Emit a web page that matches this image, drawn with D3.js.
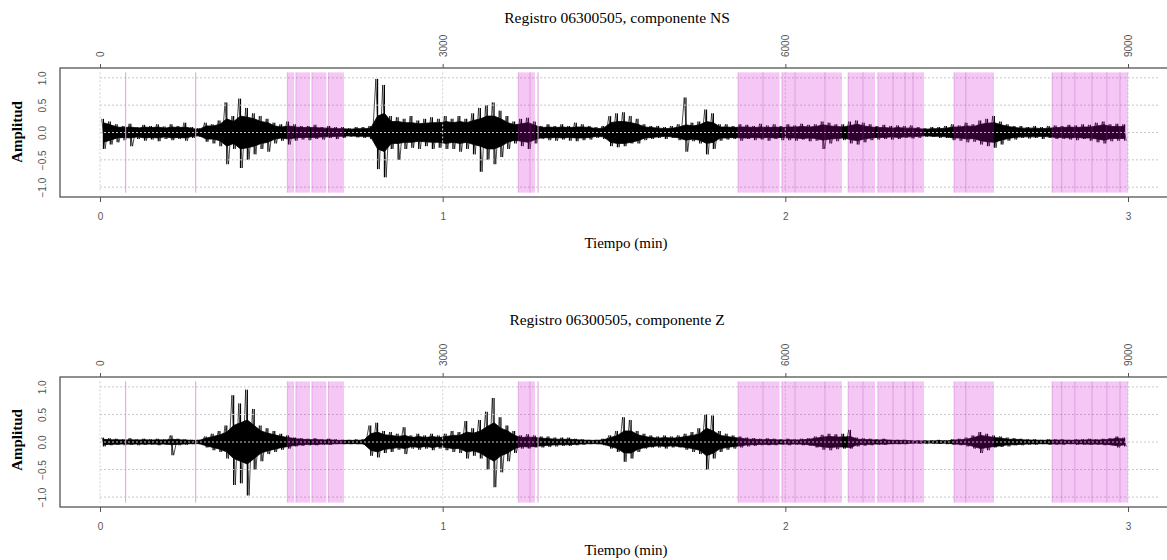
<!DOCTYPE html>
<html>
<head>
<meta charset="utf-8">
<script src="https://cdn.jsdelivr.net/npm/d3@7"></script>
<style>
    body { margin: 0; background: #fff; }
    svg text { font-family: "Liberation Serif", "Times New Roman", serif; }
    .eje text { font-family: "Liberation Sans", Arial, sans-serif; font-size: 10px; fill: #555; }
    .eje line { stroke: #555; }
</style>
</head>
<body>
<div class="container"></div>
<script>
// eje superior en muestras, eje inferior en minutos
let muestras = [0, 3000, 6000, 9000];
let minutos = [0, 1, 2, 3];
let amplitudes = [-1, -0.5, 0, 0.5, 1];
let paso = 60; // muestras por bloque de envolvente

// ventanas marcadas (inicio, fin) en muestras
let bandas = [
    [1640, 1700], [1715, 1838], [1855, 1982], [2000, 2136],
    [3662, 3765], [3765, 3808],
    [5586, 5805], [5805, 5950], [5970, 6085], [6085, 6347], [6347, 6495],
    [6550, 6680], [6680, 6785], [6810, 6943], [6943, 7048], [7048, 7118], [7118, 7214],
    [7477, 7580], [7580, 7827],
    [8335, 8420], [8420, 8535], [8535, 8685], [8685, 8815], [8815, 8930], [8930, 9000]
];
let lineas = [225, 838, 3835];

// componente NS: pico maximo, pico minimo y nucleo denso por bloque
let nsMax = [
    0.25, 0.2, 0.15, 0.12, 0.16, 0.1, 0.14, 0.12, 0.15, 0.11,
    0.15, 0.12, 0.18, 0.1, 0.08, 0.18, 0.15, 0.22, 0.55, 0.3,
    0.62, 0.45, 0.35, 0.3, 0.25, 0.18, 0.15, 0.2, 0.15, 0.12,
    0.12, 0.14, 0.1, 0.12, 0.1, 0.1, 0.08, 0.1, 0.1, 0.12,
    0.98, 0.87, 0.3, 0.28, 0.25, 0.3, 0.22, 0.25, 0.28, 0.25,
    0.3, 0.25, 0.3, 0.25, 0.35, 0.45, 0.5, 0.55, 0.4, 0.3,
    0.2, 0.25, 0.27, 0.2, 0.12, 0.15, 0.12, 0.15, 0.12, 0.18,
    0.15, 0.12, 0.1, 0.12, 0.3, 0.35, 0.37, 0.3, 0.25, 0.15,
    0.12, 0.12, 0.1, 0.12, 0.15, 0.64, 0.18, 0.2, 0.42, 0.35,
    0.15, 0.15, 0.12, 0.15, 0.14, 0.12, 0.16, 0.13, 0.15, 0.12,
    0.15, 0.13, 0.16, 0.14, 0.15, 0.2, 0.18, 0.15, 0.15, 0.2,
    0.22, 0.18, 0.15, 0.12, 0.14, 0.12, 0.13, 0.12, 0.13, 0.1,
    0.08, 0.1, 0.1, 0.12, 0.15, 0.13, 0.18, 0.15, 0.22, 0.25,
    0.3, 0.2, 0.15, 0.12, 0.12, 0.1, 0.12, 0.1, 0.12, 0.13,
    0.12, 0.14, 0.13, 0.15, 0.14, 0.18, 0.2, 0.15, 0.16, 0.15
];
let nsMin = [
    -0.3, -0.22, -0.18, -0.14, -0.25, -0.12, -0.15, -0.13, -0.16, -0.12,
    -0.14, -0.12, -0.15, -0.1, -0.08, -0.17, -0.2, -0.25, -0.58, -0.3,
    -0.65, -0.5, -0.4, -0.3, -0.35, -0.2, -0.15, -0.22, -0.15, -0.13,
    -0.14, -0.12, -0.13, -0.1, -0.12, -0.1, -0.08, -0.09, -0.1, -0.12,
    -0.67, -0.82, -0.3, -0.5, -0.3, -0.28, -0.3, -0.25, -0.3, -0.28,
    -0.3, -0.3, -0.35, -0.3, -0.4, -0.72, -0.5, -0.58, -0.45, -0.3,
    -0.2, -0.25, -0.3, -0.2, -0.12, -0.14, -0.15, -0.13, -0.15, -0.16,
    -0.14, -0.13, -0.1, -0.12, -0.25, -0.27, -0.25, -0.2, -0.2, -0.14,
    -0.12, -0.1, -0.12, -0.1, -0.14, -0.35, -0.16, -0.2, -0.4, -0.3,
    -0.15, -0.13, -0.12, -0.15, -0.12, -0.14, -0.13, -0.15, -0.12, -0.14,
    -0.14, -0.15, -0.13, -0.16, -0.15, -0.3, -0.2, -0.16, -0.14, -0.2,
    -0.22, -0.18, -0.14, -0.13, -0.12, -0.13, -0.12, -0.1, -0.11, -0.1,
    -0.08, -0.08, -0.1, -0.1, -0.14, -0.15, -0.18, -0.17, -0.22, -0.25,
    -0.28, -0.22, -0.15, -0.13, -0.1, -0.11, -0.1, -0.12, -0.1, -0.12,
    -0.12, -0.13, -0.14, -0.12, -0.15, -0.18, -0.2, -0.16, -0.15, -0.15
];
let nsNucleo = [
    0.18, 0.14, 0.1, 0.09, 0.1, 0.08, 0.1, 0.09, 0.1, 0.08,
    0.1, 0.09, 0.1, 0.07, 0.06, 0.12, 0.12, 0.15, 0.25, 0.2,
    0.3, 0.28, 0.25, 0.2, 0.18, 0.12, 0.1, 0.12, 0.1, 0.09,
    0.09, 0.09, 0.08, 0.08, 0.07, 0.07, 0.06, 0.07, 0.07, 0.08,
    0.3, 0.35, 0.2, 0.2, 0.18, 0.18, 0.16, 0.17, 0.18, 0.18,
    0.2, 0.18, 0.2, 0.18, 0.22, 0.25, 0.3, 0.3, 0.25, 0.18,
    0.14, 0.16, 0.18, 0.13, 0.09, 0.1, 0.09, 0.1, 0.09, 0.1,
    0.1, 0.09, 0.07, 0.08, 0.18, 0.2, 0.2, 0.18, 0.15, 0.1,
    0.09, 0.08, 0.07, 0.08, 0.1, 0.14, 0.12, 0.14, 0.2, 0.18,
    0.1, 0.1, 0.09, 0.1, 0.1, 0.09, 0.1, 0.09, 0.1, 0.09,
    0.1, 0.1, 0.11, 0.1, 0.11, 0.14, 0.12, 0.11, 0.1, 0.13,
    0.15, 0.12, 0.1, 0.09, 0.09, 0.08, 0.09, 0.08, 0.08, 0.07,
    0.06, 0.07, 0.07, 0.08, 0.1, 0.1, 0.12, 0.11, 0.15, 0.17,
    0.18, 0.14, 0.11, 0.09, 0.08, 0.08, 0.08, 0.07, 0.08, 0.09,
    0.09, 0.1, 0.09, 0.1, 0.1, 0.12, 0.14, 0.11, 0.11, 0.11
];

// componente Z
let zMax = [
    0.08, 0.07, 0.06, 0.05, 0.07, 0.05, 0.06, 0.05, 0.06, 0.05,
    0.12, 0.06, 0.05, 0.04, 0.04, 0.1, 0.15, 0.2, 0.3, 0.85,
    0.7, 0.95, 0.6, 0.3, 0.25, 0.2, 0.15, 0.12, 0.08, 0.07,
    0.06, 0.07, 0.05, 0.06, 0.05, 0.04, 0.04, 0.05, 0.05, 0.3,
    0.35, 0.2, 0.18, 0.15, 0.27, 0.12, 0.15, 0.12, 0.15, 0.12,
    0.15, 0.2, 0.18, 0.38, 0.25, 0.4, 0.55, 0.8, 0.45, 0.3,
    0.2, 0.12, 0.14, 0.12, 0.1, 0.1, 0.08, 0.08, 0.08, 0.06,
    0.05, 0.04, 0.04, 0.06, 0.12, 0.2, 0.45, 0.4, 0.2, 0.15,
    0.12, 0.1, 0.12, 0.1, 0.12, 0.15, 0.18, 0.25, 0.5, 0.48,
    0.2, 0.15, 0.12, 0.1, 0.08, 0.07, 0.06, 0.07, 0.06, 0.05,
    0.06, 0.05, 0.06, 0.07, 0.1, 0.13, 0.15, 0.14, 0.15, 0.22,
    0.08, 0.07, 0.06, 0.05, 0.06, 0.04, 0.04, 0.04, 0.03, 0.03,
    0.03, 0.03, 0.04, 0.03, 0.05, 0.06, 0.08, 0.12, 0.18, 0.15,
    0.12, 0.1, 0.08, 0.07, 0.06, 0.05, 0.05, 0.04, 0.05, 0.05,
    0.05, 0.04, 0.05, 0.05, 0.06, 0.05, 0.06, 0.07, 0.1, 0.08
];
let zMin = [
    -0.08, -0.06, -0.05, -0.06, -0.05, -0.06, -0.05, -0.05, -0.06, -0.05,
    -0.24, -0.06, -0.05, -0.04, -0.04, -0.1, -0.15, -0.18, -0.3, -0.78,
    -0.75, -0.97, -0.5, -0.35, -0.22, -0.18, -0.14, -0.12, -0.08, -0.07,
    -0.06, -0.06, -0.05, -0.05, -0.04, -0.04, -0.04, -0.04, -0.05, -0.25,
    -0.28, -0.2, -0.18, -0.14, -0.22, -0.12, -0.14, -0.12, -0.15, -0.12,
    -0.15, -0.18, -0.2, -0.3, -0.25, -0.3, -0.5, -0.82, -0.55, -0.35,
    -0.2, -0.12, -0.12, -0.1, -0.1, -0.09, -0.08, -0.07, -0.07, -0.06,
    -0.05, -0.04, -0.04, -0.06, -0.12, -0.18, -0.36, -0.3, -0.18, -0.12,
    -0.1, -0.1, -0.12, -0.1, -0.1, -0.14, -0.18, -0.22, -0.5, -0.3,
    -0.18, -0.14, -0.12, -0.1, -0.08, -0.07, -0.06, -0.06, -0.06, -0.05,
    -0.06, -0.05, -0.06, -0.07, -0.1, -0.14, -0.15, -0.13, -0.12, -0.12,
    -0.08, -0.07, -0.06, -0.05, -0.05, -0.04, -0.04, -0.04, -0.03, -0.03,
    -0.03, -0.03, -0.03, -0.04, -0.05, -0.06, -0.08, -0.12, -0.2, -0.15,
    -0.1, -0.09, -0.08, -0.06, -0.06, -0.05, -0.05, -0.04, -0.05, -0.05,
    -0.05, -0.04, -0.05, -0.05, -0.05, -0.05, -0.06, -0.06, -0.1, -0.08
];
let zNucleo = [
    0.05, 0.04, 0.04, 0.035, 0.04, 0.035, 0.04, 0.035, 0.04, 0.035,
    0.05, 0.04, 0.035, 0.03, 0.03, 0.07, 0.1, 0.13, 0.18, 0.3,
    0.35, 0.4, 0.3, 0.2, 0.16, 0.13, 0.1, 0.08, 0.06, 0.05,
    0.04, 0.045, 0.035, 0.04, 0.03, 0.03, 0.03, 0.03, 0.035, 0.15,
    0.18, 0.13, 0.12, 0.1, 0.12, 0.08, 0.1, 0.08, 0.1, 0.08,
    0.1, 0.12, 0.12, 0.18, 0.16, 0.2, 0.28, 0.35, 0.25, 0.2,
    0.12, 0.08, 0.09, 0.08, 0.07, 0.06, 0.05, 0.05, 0.05, 0.04,
    0.035, 0.03, 0.03, 0.04, 0.08, 0.12, 0.2, 0.2, 0.13, 0.1,
    0.08, 0.07, 0.08, 0.07, 0.08, 0.1, 0.12, 0.15, 0.25, 0.2,
    0.12, 0.1, 0.08, 0.07, 0.05, 0.05, 0.04, 0.045, 0.04, 0.035,
    0.04, 0.035, 0.04, 0.05, 0.07, 0.09, 0.1, 0.09, 0.09, 0.1,
    0.05, 0.045, 0.04, 0.035, 0.04, 0.03, 0.03, 0.03, 0.02, 0.02,
    0.02, 0.02, 0.025, 0.02, 0.035, 0.04, 0.05, 0.08, 0.12, 0.1,
    0.08, 0.07, 0.05, 0.05, 0.04, 0.035, 0.035, 0.03, 0.035, 0.035,
    0.035, 0.03, 0.035, 0.035, 0.04, 0.035, 0.04, 0.05, 0.07, 0.05
];

let width = 1167;
let height = 560;

let svg = d3.select(".container")
    .append("svg")
    .attr("width", width)
    .attr("height", height);

let paneles = [
    { titulo: "Registro 06300505, componente NS", max: nsMax, min: nsMin, nucleo: nsNucleo,
      top: 68, bottom: 197, tituloY: 23, etiqY: 248, ampY: 132 },
    { titulo: "Registro 06300505, componente Z", max: zMax, min: zMin, nucleo: zNucleo,
      top: 377, bottom: 507, tituloY: 325, etiqY: 555, ampY: 440 }
];

const dibujar = (p) => {
    let g = svg.append("g");

    let x = d3.scaleLinear().domain([0, 9000]).range([100, 1128]);
    let xMin = d3.scaleLinear().domain([0, 3]).range([100, 1128]);
    let y = d3.scaleLinear().domain([-1.18, 1.18]).range([p.bottom, p.top]);

    // senal: nucleo denso
    let area = d3.area()
        .x((d, i) => x(i * paso + paso / 2))
        .y0(d => y(-d))
        .y1(d => y(d));

    g.append("path")
        .datum(p.nucleo)
        .attr("d", area)
        .attr("fill", "black")
        .attr("stroke", "black")
        .attr("stroke-width", 0.8);

    // senal: oscilacion entre picos
    let puntos = p.max.flatMap((d, i) => [[i * paso + paso / 4, d], [i * paso + 3 * paso / 4, p.min[i]]]);
    let linea = d3.line()
        .x(d => x(d[0]))
        .y(d => y(d[1]));

    g.append("path")
        .datum(puntos)
        .attr("d", linea)
        .attr("fill", "none")
        .attr("stroke", "black")
        .attr("stroke-width", 0.7);

    // senal: picos
    g.append("g")
        .selectAll("line")
        .data(p.max)
        .enter()
        .append("line")
        .attr("x1", (d, i) => x(i * paso + paso / 2))
        .attr("x2", (d, i) => x(i * paso + paso / 2))
        .attr("y1", d => y(d))
        .attr("y2", (d, i) => y(p.min[i]))
        .attr("stroke", "black")
        .attr("stroke-width", 1.2);

    // rejilla
    g.selectAll(".hgrid")
        .data(amplitudes)
        .enter()
        .append("line")
        .attr("x1", x(0))
        .attr("x2", 1158)
        .attr("y1", d => y(d))
        .attr("y2", d => y(d))
        .attr("stroke", "#c8c8c8")
        .attr("stroke-dasharray", "2,2");

    g.selectAll(".vgrid")
        .data(minutos)
        .enter()
        .append("line")
        .attr("x1", d => xMin(d))
        .attr("x2", d => xMin(d))
        .attr("y1", y(1.1))
        .attr("y2", y(-1.1))
        .attr("stroke", "#d0d0d0")
        .attr("stroke-dasharray", "2,2");

    // ventanas
    g.selectAll(".banda")
        .data(bandas)
        .enter()
        .append("rect")
        .attr("x", d => x(d[0]))
        .attr("width", d => x(d[1]) - x(d[0]))
        .attr("y", y(1.1))
        .attr("height", y(-1.1) - y(1.1))
        .attr("fill", "#cc00cc")
        .attr("fill-opacity", 0.22);

    g.selectAll(".borde")
        .data(bandas)
        .enter()
        .append("line")
        .attr("x1", d => x(d[0]))
        .attr("x2", d => x(d[0]))
        .attr("y1", y(1.1))
        .attr("y2", y(-1.1))
        .attr("stroke", "#b030b0")
        .attr("stroke-opacity", 0.35)
        .attr("stroke-width", 0.8);

    g.selectAll(".linea")
        .data(lineas)
        .enter()
        .append("line")
        .attr("x1", d => x(d))
        .attr("x2", d => x(d))
        .attr("y1", y(1.1))
        .attr("y2", y(-1.1))
        .attr("stroke", "#d8a0d8")
        .attr("stroke-width", 1);

    // marco
    g.append("rect")
        .attr("x", 60)
        .attr("y", p.top)
        .attr("width", 1130)
        .attr("height", p.bottom - p.top)
        .attr("fill", "none")
        .attr("stroke", "#555")
        .attr("stroke-width", 1.3);

    // eje superior (muestras)
    let ejeSup = g.append("g")
        .attr("class", "eje")
        .attr("transform", "translate(0," + p.top + ")")
        .call(d3.axisTop(x).tickValues(muestras).tickSize(4).tickSizeOuter(0).tickFormat(d3.format("d")));
    ejeSup.select(".domain").remove();
    ejeSup.selectAll("text")
        .attr("transform", "rotate(-90)")
        .attr("x", 11)
        .attr("y", 0)
        .attr("dy", "0.35em")
        .attr("text-anchor", "start");

    // eje inferior (minutos)
    let ejeInf = g.append("g")
        .attr("class", "eje")
        .attr("transform", "translate(0," + p.bottom + ")")
        .call(d3.axisBottom(xMin).tickValues(minutos).tickSize(5).tickSizeOuter(0).tickFormat(d3.format("d")));
    ejeInf.select(".domain").remove();
    ejeInf.selectAll("text").attr("y", 16);

    // eje y
    let ejeY = g.append("g")
        .attr("class", "eje")
        .attr("transform", "translate(60,0)")
        .call(d3.axisLeft(y).tickValues(amplitudes).tickSize(0).tickFormat(d3.format(".1f")));
    ejeY.select(".domain").remove();
    ejeY.selectAll("text")
        .attr("transform", "rotate(-90)")
        .attr("x", 0)
        .attr("y", -18)
        .attr("dy", "0.35em")
        .attr("text-anchor", "middle");

    // textos
    g.append("text")
        .attr("x", 617)
        .attr("y", p.tituloY)
        .attr("text-anchor", "middle")
        .style("font-size", "15.5px")
        .text(p.titulo);

    g.append("text")
        .attr("x", 626)
        .attr("y", p.etiqY)
        .attr("text-anchor", "middle")
        .style("font-size", "15px")
        .text("Tiempo (min)");

    g.append("text")
        .attr("transform", "translate(22," + p.ampY + ") rotate(-90)")
        .attr("text-anchor", "middle")
        .style("font-size", "15px")
        .style("font-weight", "bold")
        .text("Amplitud");
}

paneles.forEach(p => dibujar(p));
</script>
</body>
</html>
